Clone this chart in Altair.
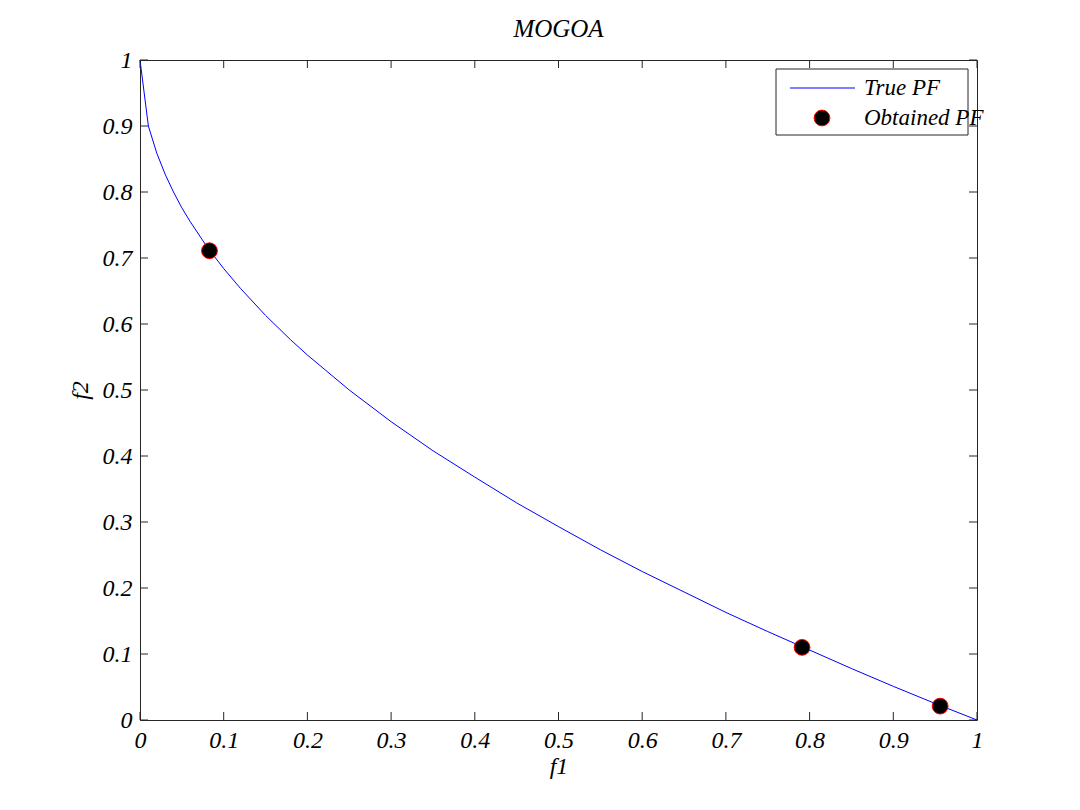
import altair as alt
import pandas as pd

# True Pareto front
pf_f1 = [0.0, 0.01, 0.02, 0.03, 0.04, 0.05, 0.06, 0.08, 0.10, 0.12, 0.15, 0.18, 0.20,
         0.25, 0.30, 0.35, 0.40, 0.45, 0.50, 0.55, 0.60, 0.65, 0.70, 0.75, 0.80,
         0.85, 0.90, 0.95, 1.00]
pf_f2 = [1.0, 0.900, 0.859, 0.827, 0.800, 0.776, 0.755, 0.717, 0.684, 0.654, 0.613, 0.576, 0.553,
         0.500, 0.452, 0.408, 0.368, 0.329, 0.293, 0.258, 0.225, 0.194, 0.163, 0.134, 0.106,
         0.078, 0.051, 0.025, 0.0]

# Obtained Pareto front
obt_f1 = [0.083, 0.791, 0.956]
obt_f2 = [0.711, 0.110, 0.021]

tick_values = [0, 0.1, 0.2, 0.3, 0.4, 0.5, 0.6, 0.7, 0.8, 0.9, 1.0]
legend_labels = ["True PF", "Obtained PF"]

W, H = 837, 660
FONT = "Liberation Serif"
FS = 24

pf = pd.DataFrame({"f1": pf_f1, "f2": pf_f2})
obt = pd.DataFrame({"f1": obt_f1, "f2": obt_f2})
ticks = pd.DataFrame({"v": tick_values})

xs = alt.Scale(domain=[0, 1], nice=False)
ys = alt.Scale(domain=[0, 1], nice=False)

xaxis = alt.Axis(values=tick_values, ticks=False, domain=False, grid=False,
                 labelFont=FONT, labelFontStyle="italic", labelFontSize=FS,
                 labelColor="black", labelPadding=8, labelFlush=False, labelOverlap=False,
                 format="~g", title="f1", titleFont=FONT, titleFontStyle="italic",
                 titleFontWeight="normal", titleFontSize=FS, titleColor="black",
                 titlePadding=2)
yaxis = alt.Axis(values=tick_values, ticks=False, domain=False, grid=False,
                 labelFont=FONT, labelFontStyle="italic", labelFontSize=FS,
                 labelColor="black", labelPadding=8, labelFlush=False, labelOverlap=False,
                 format="~g", title="f2", titleFont=FONT, titleFontStyle="italic",
                 titleFontWeight="normal", titleFontSize=FS, titleColor="black",
                 titlePadding=10)

line = alt.Chart(pf).mark_line(color="blue", strokeWidth=1).encode(
    x=alt.X("f1:Q", scale=xs, axis=xaxis),
    y=alt.Y("f2:Q", scale=ys, axis=yaxis),
)

points = alt.Chart(obt).mark_point(filled=True, fill="black", stroke="red",
                                    strokeWidth=1, size=250, opacity=1,
                                    fillOpacity=1, shape="circle").encode(
    x=alt.X("f1:Q", scale=xs),
    y=alt.Y("f2:Q", scale=ys),
)

tick_col = "#262626"
bx = alt.Chart(ticks).mark_rule(color=tick_col, strokeWidth=1).encode(
    x=alt.X("v:Q", scale=xs), y=alt.value(H), y2=alt.value(H - 8))
tx = alt.Chart(ticks).mark_rule(color=tick_col, strokeWidth=1).encode(
    x=alt.X("v:Q", scale=xs), y=alt.value(0), y2=alt.value(8))
ly = alt.Chart(ticks).mark_rule(color=tick_col, strokeWidth=1).encode(
    y=alt.Y("v:Q", scale=ys), x=alt.value(0), x2=alt.value(8))
ry = alt.Chart(ticks).mark_rule(color=tick_col, strokeWidth=1).encode(
    y=alt.Y("v:Q", scale=ys), x=alt.value(W), x2=alt.value(W - 8))

one = pd.DataFrame({"a": [0]})
leg_box = alt.Chart(one).mark_rect(fill="white", stroke=tick_col, strokeWidth=1).encode(
    x=alt.value(636), x2=alt.value(828), y=alt.value(9), y2=alt.value(75))
leg_line = alt.Chart(one).mark_rule(color="blue", strokeWidth=1).encode(
    x=alt.value(650), x2=alt.value(715), y=alt.value(28))
leg_pt = alt.Chart(one).mark_point(filled=True, fill="black", stroke="red", strokeWidth=1,
                                   size=250, opacity=1, shape="circle").encode(
    x=alt.value(682), y=alt.value(58))
leg_t1 = alt.Chart(pd.DataFrame({"t": [legend_labels[0]]})).mark_text(
    font=FONT, fontStyle="italic", fontSize=23, align="left", baseline="middle",
    color="black").encode(text="t:N", x=alt.value(724), y=alt.value(28))
leg_t2 = alt.Chart(pd.DataFrame({"t": [legend_labels[1]]})).mark_text(
    font=FONT, fontStyle="italic", fontSize=23, align="left", baseline="middle",
    color="black").encode(text="t:N", x=alt.value(724), y=alt.value(58))

chart = alt.layer(line, points, bx, tx, ly, ry, leg_box, leg_line, leg_pt, leg_t1, leg_t2).properties(
    width=W, height=H,
    background="white",
    title=alt.TitleParams("MOGOA", font=FONT, fontStyle="italic", fontWeight="normal",
                          fontSize=25, color="black", offset=6),
    autosize=alt.AutoSizeParams(type="none"),
    padding={"left": 140, "top": 60, "right": 103, "bottom": 90},
).configure_view(stroke="#262626", strokeWidth=1)

chart.save("out.html", embed_options={"renderer": "svg", "actions": False})
